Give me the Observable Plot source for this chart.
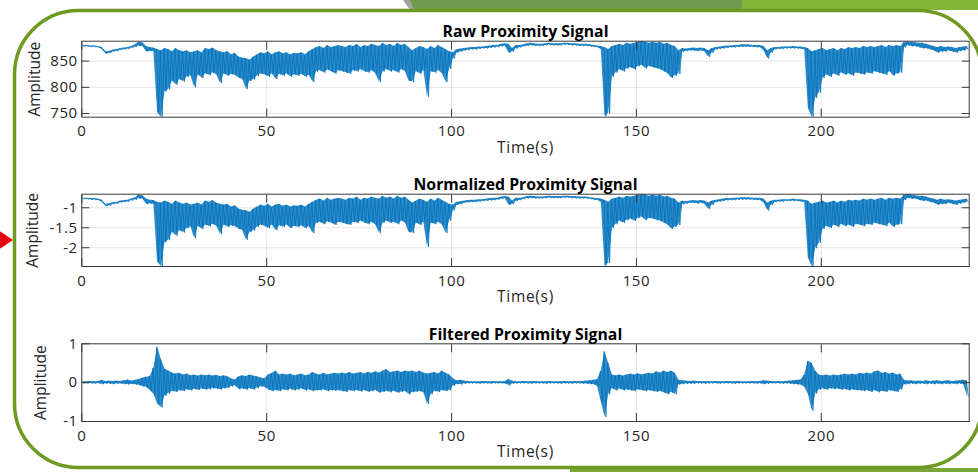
<!DOCTYPE html>
<html><head><meta charset="utf-8">
<script src="https://cdn.jsdelivr.net/npm/d3@7"></script>
<script src="https://cdn.jsdelivr.net/npm/@observablehq/plot@0.6"></script>
<style>
html,body{margin:0;padding:0;background:#fff;overflow:hidden}
#wrap{position:relative;width:978px;height:472px;font-family:"Open Sans",sans-serif}
#wrap .panel{position:absolute;left:0}
#deco{position:absolute;left:0;top:0;pointer-events:none}
</style></head><body>
<div id="wrap"></div>
<script>
// ---- data (1-second bins: upper / lower excursion of the signal) ----
const timeTicks = [0, 50, 100, 150, 200];
const titles = ["Raw Proximity Signal", "Normalized Proximity Signal", "Filtered Proximity Signal"];
const xLabel = "Time(s)";
const yLabel = "Amplitude";
const rawTicks = [750, 800, 850];
const normTicks = [-2, -1.5, -1];
const filtTicks = [-1, 0, 1];
const rawDomain = [743, 888];
const normDomain = [-2.47, -0.66];
const filtDomain = [-1, 1];

const rawHi = [880,880,879,879,878,876,868,869,871,872,874,875,876,878,881,886,885,878,876,875,
872,870,874,872,868,874,870,868,870,866,868,870,866,874,872,875,870,868,866,868,
862,865,858,856,855,852,858,862,866,864,868,862,866,868,864,866,862,865,864,866,
862,868,872,876,878,874,880,876,878,880,878,876,880,878,882,876,880,878,882,880,
878,884,880,882,878,884,880,882,876,870,874,878,876,872,878,874,880,876,872,868,
866,872,873,874,875,876,876,877,877,878,879,880,880,882,883,882,874,880,880,881,
883,884,883,882,882,883,884,883,883,883,884,884,883,883,882,882,882,881,880,879,
878,876,872,878,880,882,880,884,882,884,886,888,886,884,886,884,886,882,884,880,
878,870,874,873,874,875,874,875,874,870,874,876,877,878,879,879,880,880,881,881,
881,880,880,880,878,870,874,876,876,877,877,877,878,877,877,876,874,868,870,872,
874,870,872,874,870,874,872,876,874,876,874,878,876,878,876,878,880,876,880,878,
880,878,886,887,886,885,884,884,882,880,878,876,878,876,877,876,874,876,877,878];
const rawLo = [878,878,877,877,876,872,864,865,868,869,871,872,873,875,877,879,878,868,869,868,
752,743,792,796,812,805,815,811,820,822,800,824,818,826,823,828,824,808,826,822,
825,823,818,815,797,812,815,822,826,824,820,826,816,825,822,826,820,824,822,825,
820,823,810,830,832,828,833,830,826,832,830,828,826,832,830,834,830,828,832,826,
810,830,834,830,832,828,834,830,812,810,830,826,832,782,830,828,832,826,810,835,
855,866,868,870,871,872,872,873,874,874,875,876,877,878,879,866,868,874,876,878,
879,880,879,879,879,880,881,880,880,880,881,881,880,880,879,879,879,878,877,876,
872,745,750,820,828,834,830,836,838,834,840,842,836,840,838,836,834,830,826,818,
822,826,868,869,870,870,869,870,868,858,866,872,873,874,875,876,876,877,877,877,
877,877,876,876,870,855,866,872,873,873,874,874,874,874,873,872,760,743,780,790,
818,824,820,826,822,828,824,826,822,828,826,824,828,826,830,828,826,824,830,822,
826,828,876,880,878,878,876,874,874,872,870,866,868,868,870,868,866,869,870,872];

const normHi = [-0.76,-0.76,-0.77,-0.77,-0.78,-0.81,-0.91,-0.90,-0.87,-0.86,-0.83,-0.82,-0.81,-0.78,-0.75,-0.68,-0.70,-0.78,-0.81,-0.82,
-0.86,-0.88,-0.83,-0.86,-0.91,-0.83,-0.88,-0.91,-0.88,-0.93,-0.91,-0.88,-0.93,-0.83,-0.86,-0.82,-0.88,-0.91,-0.93,-0.91,
-0.98,-0.95,-1.03,-1.06,-1.07,-1.11,-1.03,-0.98,-0.93,-0.96,-0.91,-0.98,-0.93,-0.91,-0.96,-0.93,-0.98,-0.95,-0.96,-0.93,
-0.98,-0.91,-0.86,-0.81,-0.78,-0.83,-0.76,-0.81,-0.78,-0.76,-0.78,-0.81,-0.76,-0.78,-0.73,-0.81,-0.76,-0.78,-0.73,-0.76,
-0.78,-0.71,-0.76,-0.73,-0.78,-0.71,-0.76,-0.73,-0.81,-0.88,-0.83,-0.78,-0.81,-0.86,-0.78,-0.83,-0.76,-0.81,-0.86,-0.91,
-0.93,-0.86,-0.85,-0.83,-0.82,-0.81,-0.81,-0.80,-0.80,-0.78,-0.77,-0.76,-0.76,-0.73,-0.72,-0.73,-0.83,-0.76,-0.76,-0.75,
-0.72,-0.71,-0.72,-0.73,-0.73,-0.72,-0.71,-0.72,-0.72,-0.72,-0.71,-0.71,-0.72,-0.72,-0.73,-0.73,-0.73,-0.75,-0.76,-0.77,
-0.78,-0.81,-0.86,-0.78,-0.76,-0.73,-0.76,-0.71,-0.73,-0.71,-0.68,-0.66,-0.68,-0.71,-0.68,-0.71,-0.68,-0.73,-0.71,-0.76,
-0.78,-0.88,-0.83,-0.85,-0.83,-0.82,-0.83,-0.82,-0.83,-0.88,-0.83,-0.81,-0.80,-0.78,-0.77,-0.77,-0.76,-0.76,-0.75,-0.75,
-0.75,-0.76,-0.76,-0.76,-0.78,-0.88,-0.83,-0.81,-0.81,-0.80,-0.80,-0.80,-0.78,-0.80,-0.80,-0.81,-0.83,-0.91,-0.88,-0.86,
-0.83,-0.88,-0.86,-0.83,-0.88,-0.83,-0.86,-0.81,-0.83,-0.81,-0.83,-0.78,-0.81,-0.78,-0.81,-0.78,-0.76,-0.81,-0.76,-0.78,
-0.76,-0.78,-0.68,-0.67,-0.68,-0.70,-0.71,-0.71,-0.73,-0.76,-0.78,-0.81,-0.78,-0.81,-0.80,-0.81,-0.83,-0.81,-0.80,-0.78];
const normLo = [-0.78,-0.78,-0.80,-0.80,-0.81,-0.86,-0.96,-0.95,-0.91,-0.90,-0.87,-0.86,-0.85,-0.82,-0.80,-0.77,-0.78,-0.91,-0.90,-0.91,
-2.36,-2.47,-1.86,-1.81,-1.61,-1.70,-1.57,-1.62,-1.51,-1.48,-1.76,-1.46,-1.53,-1.43,-1.47,-1.41,-1.46,-1.66,-1.43,-1.48,
-1.45,-1.47,-1.53,-1.57,-1.80,-1.61,-1.57,-1.48,-1.43,-1.46,-1.51,-1.43,-1.56,-1.45,-1.48,-1.43,-1.51,-1.46,-1.48,-1.45,
-1.51,-1.47,-1.63,-1.38,-1.36,-1.41,-1.35,-1.38,-1.43,-1.36,-1.38,-1.41,-1.43,-1.36,-1.38,-1.33,-1.38,-1.41,-1.36,-1.43,
-1.63,-1.38,-1.33,-1.38,-1.36,-1.41,-1.33,-1.38,-1.61,-1.63,-1.38,-1.43,-1.36,-1.98,-1.38,-1.41,-1.36,-1.43,-1.63,-1.32,
-1.07,-0.93,-0.91,-0.88,-0.87,-0.86,-0.86,-0.85,-0.83,-0.83,-0.82,-0.81,-0.80,-0.78,-0.77,-0.93,-0.91,-0.83,-0.81,-0.78,
-0.77,-0.76,-0.77,-0.77,-0.77,-0.76,-0.75,-0.76,-0.76,-0.76,-0.75,-0.75,-0.76,-0.76,-0.77,-0.77,-0.77,-0.78,-0.80,-0.81,
-0.86,-2.45,-2.38,-1.51,-1.41,-1.33,-1.38,-1.31,-1.28,-1.33,-1.26,-1.23,-1.31,-1.26,-1.28,-1.31,-1.33,-1.38,-1.43,-1.53,
-1.48,-1.43,-0.91,-0.90,-0.88,-0.88,-0.90,-0.88,-0.91,-1.03,-0.93,-0.86,-0.85,-0.83,-0.82,-0.81,-0.81,-0.80,-0.80,-0.80,
-0.80,-0.80,-0.81,-0.81,-0.88,-1.07,-0.93,-0.86,-0.85,-0.85,-0.83,-0.83,-0.83,-0.83,-0.85,-0.86,-2.26,-2.47,-2.01,-1.88,
-1.53,-1.46,-1.51,-1.43,-1.48,-1.41,-1.46,-1.43,-1.48,-1.41,-1.43,-1.46,-1.41,-1.43,-1.38,-1.41,-1.43,-1.46,-1.38,-1.48,
-1.43,-1.41,-0.81,-0.76,-0.78,-0.78,-0.81,-0.83,-0.83,-0.86,-0.88,-0.93,-0.91,-0.91,-0.88,-0.91,-0.93,-0.90,-0.88,-0.86];

const filtHi = [.02,.02,.03,.02,.03,.06,.03,.04,.03,.04,.03,.05,.07,.04,.06,.08,.12,.14,.16,.38,
.92,.6,.35,.3,.25,.22,.24,.2,.22,.18,.2,.17,.2,.18,.2,.17,.19,.16,.18,.15,
.1,.07,.15,.18,.16,.2,.17,.15,.12,.1,.2,.24,.3,.2,.22,.2,.22,.18,.2,.22,
.18,.2,.26,.22,.2,.24,.2,.22,.24,.22,.25,.22,.26,.22,.24,.26,.22,.27,.24,.28,
.25,.3,.34,.26,.28,.3,.26,.3,.28,.3,.26,.3,.25,.22,.24,.26,.22,.3,.24,.2,
.1,.05,.06,.04,.03,.02,.02,.02,.03,.02,.02,.03,.02,.02,.03,.08,.04,.02,.02,.03,
.02,.02,.03,.02,.02,.02,.03,.02,.02,.02,.03,.02,.02,.03,.02,.03,.04,.05,.06,.08,
.3,.8,.5,.2,.18,.2,.17,.2,.22,.2,.23,.2,.22,.24,.22,.28,.25,.3,.26,.3,
.24,.06,.05,.04,.03,.04,.03,.02,.03,.02,.02,.03,.02,.02,.03,.02,.02,.03,.02,.02,
.02,.03,.02,.03,.05,.04,.03,.02,.03,.02,.03,.04,.05,.06,.07,.2,.55,.5,.3,.2,
.18,.2,.17,.2,.18,.2,.22,.2,.22,.2,.24,.22,.25,.22,.28,.3,.24,.26,.22,.25,
.2,.22,.06,.04,.05,.03,.04,.03,.05,.03,.04,.05,.03,.04,.05,.03,.04,.05,.06,.05];
const filtLo = [-.02,-.02,-.02,-.03,-.02,-.04,-.03,-.03,-.04,-.03,-.03,-.04,-.05,-.04,-.05,-.07,-.1,-.12,-.2,-.3,
-.55,-.64,-.34,-.28,-.22,-.24,-.2,-.22,-.18,-.2,-.17,-.19,-.16,-.18,-.17,-.15,-.16,-.18,-.15,-.14,
-.1,-.08,-.17,-.16,-.18,-.15,-.18,-.14,-.1,-.12,-.18,-.22,-.2,-.22,-.18,-.2,-.17,-.2,-.18,-.16,
-.2,-.18,-.22,-.2,-.2,-.18,-.22,-.2,-.21,-.2,-.22,-.24,-.2,-.22,-.2,-.23,-.2,-.24,-.22,-.2,
-.26,-.24,-.22,-.25,-.22,-.26,-.24,-.22,-.3,-.25,-.24,-.22,-.26,-.55,-.3,-.22,-.24,-.2,-.22,-.2,
-.08,-.04,-.05,-.03,-.02,-.02,-.02,-.03,-.02,-.02,-.03,-.02,-.02,-.02,-.03,-.07,-.03,-.02,-.02,-.02,
-.02,-.03,-.02,-.02,-.02,-.03,-.02,-.02,-.02,-.03,-.02,-.02,-.03,-.02,-.02,-.03,-.03,-.04,-.05,-.1,
-.5,-.88,-.3,-.15,-.2,-.16,-.2,-.18,-.2,-.22,-.18,-.2,-.22,-.2,-.22,-.24,-.22,-.26,-.3,-.25,
-.3,-.05,-.04,-.03,-.03,-.03,-.02,-.02,-.03,-.02,-.02,-.02,-.03,-.02,-.02,-.02,-.03,-.02,-.02,-.02,
-.02,-.02,-.03,-.02,-.04,-.03,-.02,-.02,-.02,-.03,-.02,-.03,-.04,-.05,-.06,-.12,-.3,-.72,-.28,-.18,
-.16,-.18,-.15,-.17,-.16,-.18,-.17,-.2,-.18,-.2,-.2,-.22,-.2,-.24,-.2,-.25,-.22,-.24,-.2,-.22,
-.24,-.18,-.05,-.04,-.03,-.04,-.03,-.03,-.04,-.03,-.04,-.03,-.04,-.03,-.04,-.03,-.04,-.03,-.04,-.35];

// ---- layout ----
const FONT = '"Open Sans", sans-serif';
const INK = "#262626";
const BLUE = "#0072bd";
const panels = [
  {title: titles[0], hi: rawHi, lo: rawLo, domain: rawDomain, ticks: rawTicks, top: 0, height: 160, mt: 40.7, mb: 43.3, ylabDx: -47},
  {title: titles[1], hi: normHi, lo: normLo, domain: normDomain, ticks: normTicks, top: 160, height: 150, mt: 33.7, mb: 44, ylabDx: -48.8},
  {title: titles[2], hi: filtHi, lo: filtLo, domain: filtDomain, ticks: filtTicks, top: 310, height: 162, mt: 33.3, mb: 51, ylabDx: -40.5}
];

const wrap = document.getElementById("wrap");

for (const p of panels) {
  // band of each 1-s bin (lower..upper excursion) and the trace swinging between them
  const bins = p.hi.map((h, i) => ({t: i + 0.5, hi: h, lo: p.lo[i]}));
  const trace = [];
  p.hi.forEach((h, i) => { trace.push({t: i + 0.25, v: h}, {t: i + 0.75, v: p.lo[i]}); });
  const chart = Plot.plot({
    width: 978, height: p.height,
    marginLeft: 81.3, marginRight: 9.3, marginTop: p.mt, marginBottom: p.mb,
    style: {fontFamily: FONT, fontSize: "15px", color: INK, background: "transparent", overflow: "visible"},
    x: {domain: [0, 240], ticks: timeTicks, label: null},
    y: {domain: p.domain, ticks: p.ticks, label: null},
    marks: [
      Plot.gridX(timeTicks, {stroke: "#000", strokeOpacity: 0.1}),
      Plot.gridY(p.ticks, {stroke: "#000", strokeOpacity: 0.1}),
      Plot.areaY(bins, {x: "t", y1: "lo", y2: "hi", fill: BLUE, fillOpacity: 0.82, clip: true}),
      Plot.line(trace, {x: "t", y: "v", stroke: BLUE, strokeWidth: 0.8, clip: true}),
      Plot.frame({stroke: "#3a3a3a", strokeWidth: 1}),
      Plot.axisX(timeTicks, {anchor: "bottom", tickSize: -8, stroke: "#3a3a3a", tickFormat: () => "", label: null}),
      Plot.axisX(timeTicks, {anchor: "top", tickSize: -8, stroke: "#3a3a3a", tickFormat: () => "", label: null}),
      Plot.axisY(p.ticks, {anchor: "left", tickSize: -8, stroke: "#3a3a3a", tickFormat: () => "", label: null}),
      Plot.axisY(p.ticks, {anchor: "right", tickSize: -8, stroke: "#3a3a3a", tickFormat: () => "", label: null}),
      Plot.axisX(timeTicks, {anchor: "bottom", tickSize: 0, tickPadding: 8.5, fill: INK, fontSize: 15, tickFormat: d => String(d), label: null}),
      Plot.axisY(p.ticks, {anchor: "left", tickSize: 0, tickPadding: 4, fill: INK, fontSize: 15, tickFormat: d => String(d), label: null}),
      Plot.text([p.title], {text: d => d, frameAnchor: "top", dy: -15.5, fontWeight: "bold", fontSize: 15.8, fill: "#000"}),
      Plot.text([xLabel], {text: d => d, frameAnchor: "bottom", dy: 35.5, fontSize: 15.5, fill: INK}),
      Plot.text([yLabel], {text: d => d, frameAnchor: "left", textAnchor: "middle", lineAnchor: "middle", dx: p.ylabDx, rotate: -90, fontSize: 15.5, fill: INK})
    ]
  });
  chart.classList.add("panel");
  chart.style.top = p.top + "px";
  chart.querySelectorAll("text").forEach(el => {
    if (el.textContent === xLabel) el.setAttribute("letter-spacing", "0.7");
    if (/^-?[0-9.]+$/.test(el.textContent)) el.setAttribute("letter-spacing", "0.6");
  });
  wrap.appendChild(chart);
}

// ---- decorative slide frame (not data) ----
const NS = "http://www.w3.org/2000/svg";
const deco = document.createElementNS(NS, "svg");
deco.setAttribute("id", "deco");
deco.setAttribute("width", 978);
deco.setAttribute("height", 472);
deco.innerHTML = `
  <polygon points="403,0 978,0 978,10 410,10" fill="#a3a3a3"/>
  <polygon points="410,0 978,0 978,10 414,10" fill="#6e9c4e"/>
  <polygon points="742,0 978,0 978,10 742,10" fill="#85b43a"/>
  <rect x="570" y="468" width="408" height="4" fill="#7aa83a"/>
  <rect x="14.5" y="10.5" width="967.5" height="457" rx="64" ry="64" fill="none" stroke="#6f9a22" stroke-width="3.5"/>
  <polygon points="-2,230 13,240 -2,250" fill="#e3000f"/>`;
wrap.appendChild(deco);
</script>
</body></html>
